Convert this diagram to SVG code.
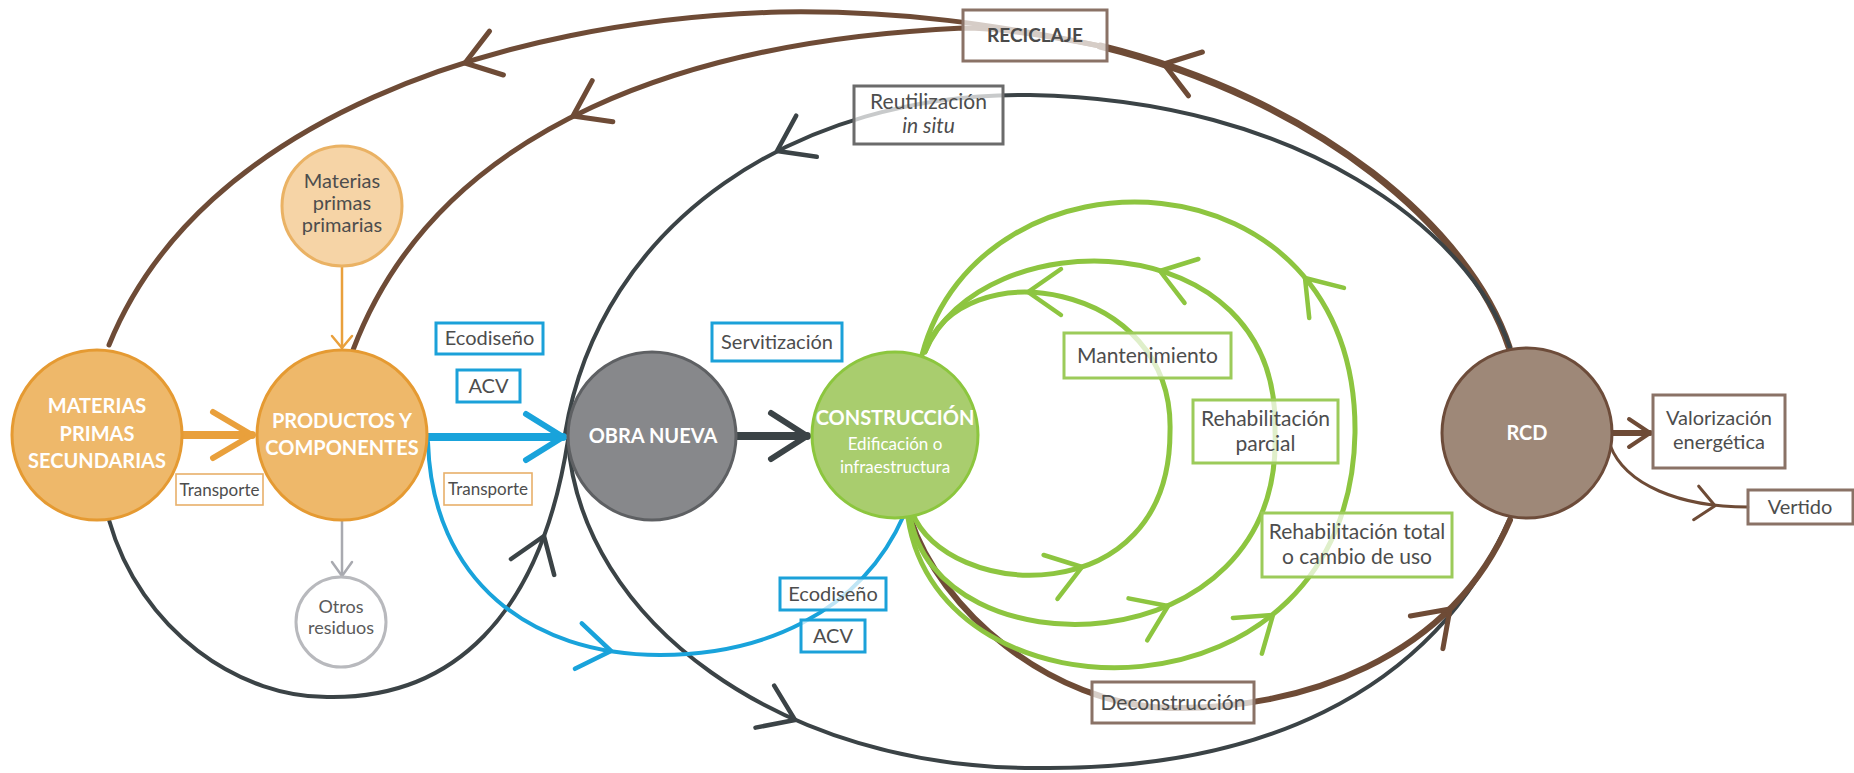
<svg xmlns="http://www.w3.org/2000/svg" width="1854" height="773" viewBox="0 0 1854 773">
<style>
text{font-family:Lato,"Open Sans","Liberation Sans",sans-serif;text-anchor:middle}
.lbl{font-size:20px;fill:#4d4d4d}
.wt{fill:#fff;font-weight:bold;font-size:20px}
.box{fill:#fff;fill-opacity:0.72}
.bb{stroke:#1ba1d9;stroke-width:3}
.bg{stroke:#9ccb5a;stroke-width:3}
.bn{stroke:#8a7266;stroke-width:3}
.bo{stroke:#e8b06a;stroke-width:1.6}
.bk{stroke:#6b6b6b;stroke-width:3}
.c{fill:none;stroke-linecap:round}
.brown{stroke:#6e4b36}
.dark{stroke:#3b4346;stroke-width:4}
.blue{stroke:#19a3db}
.green{stroke:#8dc540;stroke-width:5}
.tick{fill:none;stroke:none}
</style>
<defs>
<marker id="mBr" markerUnits="userSpaceOnUse" orient="auto" overflow="visible" markerWidth="1" markerHeight="1"><path d="M-33,-23 L0,0 L-33,23" fill="none" stroke="#6e4b36" stroke-width="5" stroke-linecap="round" stroke-linejoin="round"/></marker>
<marker id="mDk" markerUnits="userSpaceOnUse" orient="auto" overflow="visible" markerWidth="1" markerHeight="1"><path d="M-33,-23 L0,0 L-33,23" fill="none" stroke="#3b4346" stroke-width="4.5" stroke-linecap="round" stroke-linejoin="round"/></marker>
<marker id="mBl" markerUnits="userSpaceOnUse" orient="auto" overflow="visible" markerWidth="1" markerHeight="1"><path d="M-33,-23 L0,0 L-33,23" fill="none" stroke="#19a3db" stroke-width="4.5" stroke-linecap="round" stroke-linejoin="round"/></marker>
<marker id="mGr" markerUnits="userSpaceOnUse" orient="auto" overflow="visible" markerWidth="1" markerHeight="1"><path d="M-33,-23 L0,0 L-33,23" fill="none" stroke="#8dc540" stroke-width="4.5" stroke-linecap="round" stroke-linejoin="round"/></marker>
<marker id="mOrT" markerUnits="userSpaceOnUse" orient="auto" overflow="visible" markerWidth="1" markerHeight="1"><path d="M-39,-23 L0,0 L-39,23" fill="none" stroke="#e9a03c" stroke-width="6" stroke-linecap="round" stroke-linejoin="round"/></marker>
<marker id="mBlT" markerUnits="userSpaceOnUse" orient="auto" overflow="visible" markerWidth="1" markerHeight="1"><path d="M-37,-23 L0,0 L-37,23" fill="none" stroke="#19a3db" stroke-width="6" stroke-linecap="round" stroke-linejoin="round"/></marker>
<marker id="mDkT" markerUnits="userSpaceOnUse" orient="auto" overflow="visible" markerWidth="1" markerHeight="1"><path d="M-36,-23 L0,0 L-36,23" fill="none" stroke="#3b4346" stroke-width="6" stroke-linecap="round" stroke-linejoin="round"/></marker>
<marker id="mOrS" markerUnits="userSpaceOnUse" orient="auto" overflow="visible" markerWidth="1" markerHeight="1"><path d="M-12,-10 L0,0 L-12,10" fill="none" stroke="#e9a03c" stroke-width="2.5" stroke-linecap="round" stroke-linejoin="round"/></marker>
<marker id="mGyS" markerUnits="userSpaceOnUse" orient="auto" overflow="visible" markerWidth="1" markerHeight="1"><path d="M-14,-10 L0,0 L-14,10" fill="none" stroke="#a9aab0" stroke-width="2.5" stroke-linecap="round" stroke-linejoin="round"/></marker>
<marker id="mBrM" markerUnits="userSpaceOnUse" orient="auto" overflow="visible" markerWidth="1" markerHeight="1"><path d="M-21,-14 L0,0 L-21,14" fill="none" stroke="#6e4b36" stroke-width="4" stroke-linecap="round" stroke-linejoin="round"/></marker>
<marker id="mBrS" markerUnits="userSpaceOnUse" orient="auto" overflow="visible" markerWidth="1" markerHeight="1"><path d="M-19,-17 L0,0 L-19,17" fill="none" stroke="#6e4b36" stroke-width="3" stroke-linecap="round" stroke-linejoin="round"/></marker>
</defs>

<g id="connectors">
  <path class="c brown" stroke-width="7" d="M1509,347 C1470,230 1320,100 1100,46"/>
  <path class="c brown" stroke-width="5" d="M1100,46 C1000,25 900,10 780,12 C500,20 200,120 109,345"/>
  <path class="c brown" stroke-width="5" d="M1100,46 C1050,36 1000,28 963,28 C700,40 440,120 353,350"/>
  <path class="tick" d="M466.9,62.4 L465,63" marker-end="url(#mBr)"/>
  <path class="tick" d="M574.8,115.1 L573,116" marker-end="url(#mBr)"/>
  <path class="tick" d="M1165.9,64.6 L1164,64" marker-end="url(#mBr)"/>
  <path class="c dark" d="M1510,348 C1470,230 1300,100 1030,95 C800,92 600,220 565,434"/>
  <path class="tick" d="M778.8,150.1 L777,151" marker-end="url(#mDk)"/>
  <path class="c dark" d="M568,440 C580,620 780,770 1040,768 C1250,770 1430,700 1510,518"/>
  <path class="tick" d="M793.2,719.2 L795,720" marker-end="url(#mDk)"/>
  <path class="c dark" d="M109,520 C140,630 240,700 333,697 C450,697 540,620 568,440"/>
  <path class="tick" d="M543.3,537.9 L544,536" marker-end="url(#mDk)"/>
  <path class="c brown" stroke-width="6" d="M910,518 C940,610 1050,705 1170,708 C1300,710 1450,660 1510,520"/>
  <path class="tick" d="M1448.6,610.4 L1450,609" marker-end="url(#mBr)"/>
  <path class="c blue" stroke-width="4" d="M428,442 C432,580 530,655 660,655 C760,655 860,615 904,515"/>
  <path class="tick" d="M609,650.7 L611,651" marker-end="url(#mBl)"/>
  <path class="c green" d="M912,512 C945,600 1170,615 1170,432 C1175,280 960,250 925,352"/>
  <path class="c green" d="M910,515 C935,675 1285,670 1275,430 C1280,220 980,220 925,352"/>
  <path class="c green" d="M908,518 C940,730 1350,730 1355,433 C1358,145 980,135 922,355"/>
  <path class="tick" d="M1030,292 L1028,292" marker-end="url(#mGr)"/>
  <path class="tick" d="M1161.9,271.6 L1160,271" marker-end="url(#mGr)"/>
  <path class="tick" d="M1306.3,279.5 L1305,278" marker-end="url(#mGr)"/>
  <path class="tick" d="M1080.1,567.6 L1082,567" marker-end="url(#mGr)"/>
  <path class="tick" d="M1166.2,606.8 L1168,606" marker-end="url(#mGr)"/>
  <path class="tick" d="M1271.4,616.3 L1273,615" marker-end="url(#mGr)"/>
  <path class="c" stroke="#e9a03c" stroke-width="8" stroke-linecap="butt" d="M180,435 L252,435" marker-end="url(#mOrT)"/>
  <path class="c" stroke="#19a3db" stroke-width="8" stroke-linecap="butt" d="M425,437 L563,437" marker-end="url(#mBlT)"/>
  <path class="c" stroke="#3b4346" stroke-width="8" stroke-linecap="butt" d="M733,436 L807,436" marker-end="url(#mDkT)"/>
  <path class="c" stroke="#e9a03c" stroke-width="2.5" d="M342,267 L342,348" marker-end="url(#mOrS)"/>
  <path class="c" stroke="#a9aab0" stroke-width="2.5" d="M342,520 L342,576" marker-end="url(#mGyS)"/>
  <path class="c brown" stroke-width="6" stroke-linecap="butt" d="M1610,433 L1650,433" marker-end="url(#mBrM)"/>
  <path class="c brown" stroke-width="3" d="M1610,445 C1625,485 1680,507 1748,507"/>
  <path class="tick" d="M1713,505.5 L1715,505.8" marker-end="url(#mBrS)"/>
</g>

<g id="n-materias-secundarias">
  <circle cx="97" cy="435" r="85" fill="#eeb86a" stroke="#e59a32" stroke-width="3"/>
  <text class="wt" x="97" y="413">MATERIAS</text>
  <text class="wt" x="97" y="441">PRIMAS</text>
  <text class="wt" x="97" y="468">SECUNDARIAS</text>
</g>
<g id="n-productos">
  <circle cx="342" cy="435" r="85" fill="#eeb86a" stroke="#e59a32" stroke-width="3"/>
  <text class="wt" x="342" y="428">PRODUCTOS Y</text>
  <text class="wt" x="342" y="455">COMPONENTES</text>
</g>
<g id="n-materias-primarias">
  <circle cx="342" cy="206" r="60" fill="#f6d4a6" stroke="#eab264" stroke-width="3"/>
  <text class="lbl" x="342" y="188">Materias</text>
  <text class="lbl" x="342" y="210">primas</text>
  <text class="lbl" x="342" y="232">primarias</text>
</g>
<g id="n-otros-residuos">
  <circle cx="341" cy="622" r="45" fill="#fff" stroke="#b8b9bd" stroke-width="3"/>
  <text class="lbl" x="341" y="613" style="font-size:18px;fill:#5a5a5a">Otros</text>
  <text class="lbl" x="341" y="634" style="font-size:18px;fill:#5a5a5a">residuos</text>
</g>
<g id="n-obra-nueva">
  <circle cx="652" cy="436" r="84" fill="#87888b" stroke="#5e6063" stroke-width="3"/>
  <text class="wt" x="653" y="443">OBRA NUEVA</text>
</g>
<g id="n-construccion">
  <circle cx="895" cy="435" r="83" fill="#a9cd6e" stroke="#8cc63e" stroke-width="3"/>
  <text class="wt" x="895" y="425">CONSTRUCCIÓN</text>
  <text x="895" y="450" style="font-size:17px;fill:#fff">Edificación o</text>
  <text x="895" y="473" style="font-size:17px;fill:#fff">infraestructura</text>
</g>
<g id="n-rcd">
  <circle cx="1527" cy="433" r="85" fill="#9e8878" stroke="#6d4c3a" stroke-width="3"/>
  <text class="wt" x="1527" y="440">RCD</text>
</g>

<g id="l-transporte-1"><rect class="box bo" x="176" y="474" width="87" height="31"/><text class="lbl" x="219.5" y="496" style="font-size:17px">Transporte</text></g>
<g id="l-transporte-2"><rect class="box bo" x="444" y="473" width="88" height="32"/><text class="lbl" x="488" y="495" style="font-size:17px">Transporte</text></g>
<g id="l-ecodiseno-1"><rect class="box bb" x="436" y="323" width="107" height="31"/><text class="lbl" x="489.5" y="345">Ecodiseño</text></g>
<g id="l-acv-1"><rect class="box bb" x="457" y="370" width="63" height="32"/><text class="lbl" x="488.5" y="393">ACV</text></g>
<g id="l-servitizacion"><rect class="box bb" x="712" y="323" width="130" height="38"/><text class="lbl" x="777" y="349">Servitización</text></g>
<g id="l-ecodiseno-2"><rect class="box bb" x="780" y="578" width="106" height="32"/><text class="lbl" x="833" y="601">Ecodiseño</text></g>
<g id="l-acv-2"><rect class="box bb" x="801" y="620" width="64" height="32"/><text class="lbl" x="833" y="643">ACV</text></g>
<g id="l-deconstruccion"><rect class="box bn" x="1092" y="682" width="162" height="41"/><text class="lbl" x="1173" y="710" style="font-size:21px">Deconstrucción</text></g>
<g id="l-reciclaje"><rect class="box bn" x="963" y="10" width="144" height="51"/><text x="1035" y="42" style="font-size:19px;font-weight:bold;fill:#4a4a4a">RECICLAJE</text></g>
<g id="l-reutilizacion"><rect class="box bk" x="854" y="86" width="149" height="58"/><text class="lbl" x="928.5" y="109" style="font-size:21px">Reutilización</text><text class="lbl" x="928.5" y="133" style="font-size:21px;font-style:italic">in situ</text></g>
<g id="l-mantenimiento"><rect class="box bg" x="1064" y="333" width="167" height="45"/><text class="lbl" x="1147.5" y="363" style="font-size:21px">Mantenimiento</text></g>
<g id="l-rehab-parcial"><rect class="box bg" x="1193" y="400" width="145" height="63"/><text class="lbl" x="1265.5" y="426" style="font-size:21px">Rehabilitación</text><text class="lbl" x="1265.5" y="451" style="font-size:21px">parcial</text></g>
<g id="l-rehab-total"><rect class="box bg" x="1262" y="513" width="190" height="64"/><text class="lbl" x="1357" y="539" style="font-size:21px">Rehabilitación total</text><text class="lbl" x="1357" y="564" style="font-size:21px">o cambio de uso</text></g>
<g id="l-valorizacion"><rect class="box bn" x="1653" y="395" width="132" height="73"/><text class="lbl" x="1719" y="425">Valorización</text><text class="lbl" x="1719" y="449">energética</text></g>
<g id="l-vertido"><rect class="box bn" x="1748" y="490" width="105" height="34"/><text class="lbl" x="1800" y="514">Vertido</text></g>
</svg>
